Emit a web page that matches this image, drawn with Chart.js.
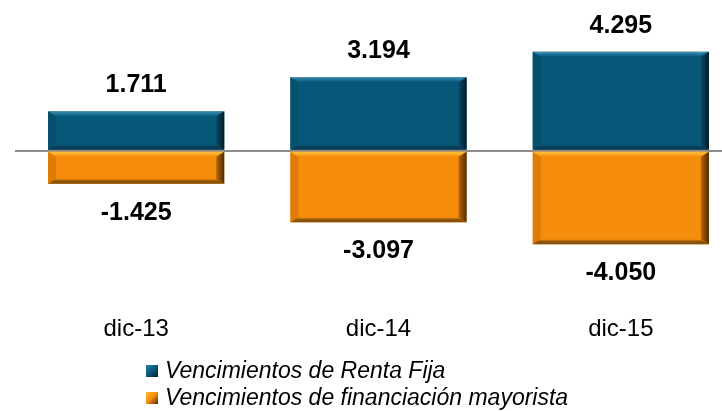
<!DOCTYPE html>
<html>
<head>
<meta charset="utf-8">
<script src="https://cdn.jsdelivr.net/npm/chart.js@4.4.1/dist/chart.umd.min.js"></script>
<style>
  html, body { margin: 0; padding: 0; background: #fff; overflow: hidden; }
  #wrap { position: relative; width: 760px; height: 411px; }
  #legend { position: absolute; left: 146px; top: 357px; font-family: "Liberation Sans", Arial, sans-serif;
            font-style: italic; font-size: 23px; color: #000; }
  #legend div { height: 27px; line-height: 27px; white-space: nowrap; }
  #legend span.box { display: inline-block; width: 12px; height: 12px; margin-right: 7px; vertical-align: 1px; }
</style>
</head>
<body>
<div id="wrap">
  <canvas id="chart"></canvas>
  <div id="legend"></div>
</div>
<script>
// datos
var categories = ['dic-13', 'dic-14', 'dic-15'];
var rentaFija = [1711, 3194, 4295];
var financiacion = [-1425, -3097, -4050];
var seriesNames = ['Vencimientos de Renta Fija', 'Vencimientos de financiación mayorista'];

// colores base + bisel (luz arriba, sombra derecha/abajo)
var palette = [
    { main: '#075878', top1: '#5f93ab', top2: '#2b82a6', right1: '#0a4a66', right2: '#021b27', bottom: '#0b3b52', left: '#06506e' },
    { main: '#f68c0c', top1: '#f5b24a', top2: '#ffbb2e', right1: '#b86604', right2: '#4e2c04', bottom: '#8a5208', left: '#dd7c08' }
];

function fmt(v) {
    var s = Math.abs(v).toString();
    s = s.replace(/\B(?=(\d{3})+(?!\d))/g, '.');
    return (v < 0 ? '-' : '') + s;
}

// dibuja el bisel sobre cada barra
var bevelPlugin = {
    id: 'bevel',
    afterDatasetsDraw: function (chart) {
        var ctx = chart.ctx;
        chart.data.datasets.forEach(function (ds, di) {
            var p = palette[di];
            chart.getDatasetMeta(di).data.forEach(function (bar) {
                var l = bar.x - bar.width / 2, r = bar.x + bar.width / 2;
                var t = Math.min(bar.y, bar.base), b = Math.max(bar.y, bar.base);
                var h = b - t;
                var bw = 8, bt = Math.min(5, h / 4), bb = Math.min(5, h / 4);
                ctx.save();
                // izquierda
                ctx.fillStyle = p.left;
                ctx.beginPath();
                ctx.moveTo(l, t); ctx.lineTo(l + bw, t + bt); ctx.lineTo(l + bw, b - bb); ctx.lineTo(l, b);
                ctx.closePath(); ctx.fill();
                // arriba
                var g = ctx.createLinearGradient(0, t, 0, t + bt);
                g.addColorStop(0, p.top1); g.addColorStop(0.25, p.top2); g.addColorStop(1, p.main);
                ctx.fillStyle = g;
                ctx.beginPath();
                ctx.moveTo(l, t); ctx.lineTo(r, t); ctx.lineTo(r - bw, t + bt); ctx.lineTo(l + bw, t + bt);
                ctx.closePath(); ctx.fill();
                // abajo
                var gb = ctx.createLinearGradient(0, b - bb, 0, b);
                gb.addColorStop(0, p.main); gb.addColorStop(0.5, p.bottom); gb.addColorStop(1, p.bottom);
                ctx.fillStyle = gb;
                ctx.beginPath();
                ctx.moveTo(l, b); ctx.lineTo(r, b); ctx.lineTo(r - bw, b - bb); ctx.lineTo(l + bw, b - bb);
                ctx.closePath(); ctx.fill();
                // derecha
                var gr = ctx.createLinearGradient(r - bw, 0, r, 0);
                gr.addColorStop(0, p.right1); gr.addColorStop(1, p.right2);
                ctx.fillStyle = gr;
                ctx.beginPath();
                ctx.moveTo(r, t); ctx.lineTo(r, b); ctx.lineTo(r - bw, b - bb); ctx.lineTo(r - bw, t + bt);
                ctx.closePath(); ctx.fill();
                ctx.restore();
            });
        });
    }
};

// etiquetas de valor encima / debajo
var labelsPlugin = {
    id: 'valueLabels',
    afterDatasetsDraw: function (chart) {
        var ctx = chart.ctx;
        ctx.save();
        ctx.font = 'bold 25px "Liberation Sans", Arial, sans-serif';
        ctx.fillStyle = '#000';
        ctx.textAlign = 'center';
        ctx.textBaseline = 'middle';
        chart.data.datasets.forEach(function (ds, di) {
            chart.getDatasetMeta(di).data.forEach(function (bar, i) {
                var v = ds.data[i];
                var y = v >= 0 ? bar.y - 26 : bar.y + 29;
                ctx.fillText(fmt(v), bar.x, y);
            });
        });
        ctx.restore();
    }
};

var chart = new Chart(document.getElementById('chart'), {
    type: 'bar',
    data: {
        labels: categories,
        datasets: [
            { label: seriesNames[0], data: rentaFija, backgroundColor: palette[0].main, borderWidth: 0 },
            { label: seriesNames[1], data: financiacion, backgroundColor: palette[1].main, borderWidth: 0 }
        ]
    },
    options: {
        responsive: true,
        maintainAspectRatio: false,
        animation: false,
        layout: { padding: { left: 15, right: 18, top: 24, bottom: 64 } },
        datasets: { bar: { barPercentage: 1, categoryPercentage: 0.727 } },
        plugins: { legend: { display: false }, tooltip: { enabled: false } },
        scales: {
            x: {
                stacked: true,
                grid: { display: false, drawTicks: false },
                border: { display: false },
                ticks: { color: '#000', padding: 3, font: { family: '"Liberation Sans", Arial, sans-serif', size: 24 } }
            },
            y: {
                stacked: true,
                min: -7000,
                max: 5500,
                border: { display: false },
                grid: {
                    drawTicks: false,
                    lineWidth: 2,
                    color: function (c) { return c.tick && c.tick.value === 0 ? '#8c8c8c' : 'rgba(0,0,0,0)'; }
                },
                ticks: { display: false, stepSize: 500 },
                afterFit: function (s) { s.width = 0; }
            }
        }
    },
    plugins: [bevelPlugin, labelsPlugin]
});

// leyenda en HTML a partir de los datasets
var leg = document.getElementById('legend');
chart.data.datasets.forEach(function (ds, di) {
    var row = document.createElement('div');
    var box = document.createElement('span');
    box.className = 'box';
    box.style.background = 'linear-gradient(135deg,' + palette[di].top2 + ',' + palette[di].main + ' 50%,' + palette[di].right2 + ')';
    row.appendChild(box);
    row.appendChild(document.createTextNode(ds.label));
    leg.appendChild(row);
});
</script>
</body>
</html>
